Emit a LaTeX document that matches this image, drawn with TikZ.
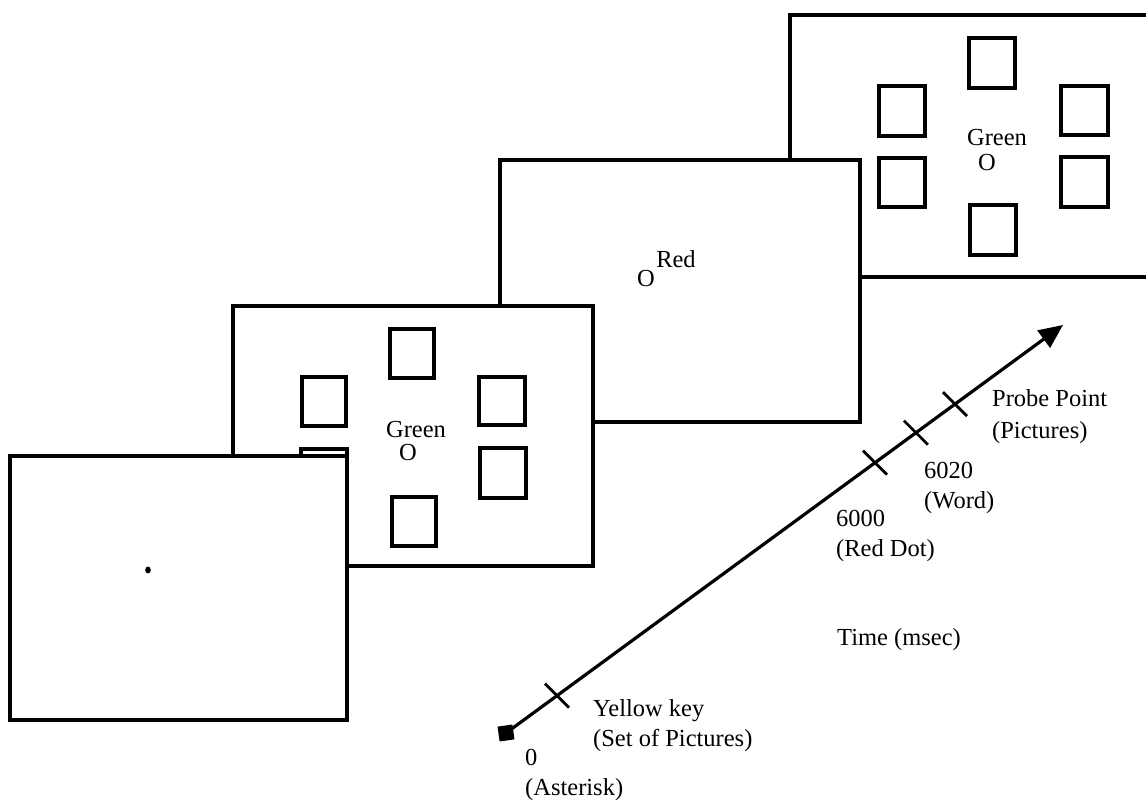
\documentclass[tikz,border=0pt]{standalone}
\usepackage{fontspec}
\setmainfont{Liberation Serif}
\usetikzlibrary{arrows.meta,calc}
\begin{document}
\begin{tikzpicture}[x=1pt,y=-1pt,
  screen/.style={draw=black,fill=white,line width=3.2pt},
  imgbox/.style={draw=black,line width=3.4pt},
  lbl/.style={anchor=base west,inner sep=0pt,font=\fontsize{24.5}{29}\selectfont},
  ctr/.style={anchor=base,inner sep=0pt,font=\fontsize{24.5}{29}\selectfont},
  tickmark/.style={line width=2.8pt},
]
\clip (0,0) rectangle (1146,807);
\fill[white] (0,0) rectangle (1146,807);
% screen 4 (back)
\draw[screen] (790,15) rectangle (1170,277);
\draw[imgbox] (969,38) rectangle (1015,88);
\draw[imgbox] (879,86) rectangle (925,136);
\draw[imgbox] (879,158) rectangle (925,207);
\draw[imgbox] (1061,86) rectangle (1108,135);
\draw[imgbox] (1061,157) rectangle (1108,207);
\draw[imgbox] (970,205) rectangle (1016,255);
\node[ctr] (g4) at (997,145) {Green};
\node[ctr] (o4) at (987,170) {O};
% screen 3
\draw[screen] (500,160) rectangle (860,422);
\node[ctr] (o3) at (646,286) {O};
\node[ctr] (r3) at (676,267) {Red};
% screen 2
\draw[screen] (233,306) rectangle (593,566);
\draw[imgbox] (390,329) rectangle (434,378);
\draw[imgbox] (302,377) rectangle (346,426);
\draw[imgbox] (301,449) rectangle (347,498);
\draw[imgbox] (479,377) rectangle (525,425);
\draw[imgbox] (480,448) rectangle (526,498);
\draw[imgbox] (392,497) rectangle (436,546);
\node[ctr] (g2) at (416,437) {Green};
\node[ctr] (o2) at (408,460) {O};
% screen 1 (front)
\draw[screen] (10,456) rectangle (347,720);
\fill (148,570) ellipse (2.8pt and 3.4pt);
% time axis
\coordinate (a0) at (506,733);
\coordinate (a1) at (1063,325);
\draw[line width=3.2pt,-{Triangle[length=24pt,width=21pt]}] (a0) -- (a1);
\node[fill=black,minimum size=15pt,inner sep=0pt,rotate=8] (sq) at (a0) {};
\coordinate (k0) at ($(a0)!0.0916!(a1)$);
\coordinate (k1) at ($(a0)!0.6625!(a1)$);
\coordinate (k2) at ($(a0)!0.736!(a1)$);
\coordinate (k3) at ($(a0)!0.806!(a1)$);
\foreach \k in {k0,k1,k2,k3}
  \draw[tickmark] ([shift={(-12,-12)}]\k) -- ([shift={(12,12)}]\k);
% labels
\node[lbl] (pp1) at (992,406) {Probe Point};
\node[lbl] (pp2) at (992,438) {(Pictures)};
\node[lbl] (w1) at (924,478) {6020};
\node[lbl] (w2) at (924,508) {(Word)};
\node[lbl] (rd1) at (836,526) {6000};
\node[lbl] (rd2) at (836,556) {(Red Dot)};
\node[lbl] (tm) at (837,645) {Time (msec)};
\node[lbl] (yk1) at (593,716) {Yellow key};
\node[lbl] (yk2) at (593,746) {(Set of Pictures)};
\node[lbl] (z1) at (525,765) {0};
\node[lbl] (z2) at (525,795) {(Asterisk)};
\end{tikzpicture}
\end{document}
